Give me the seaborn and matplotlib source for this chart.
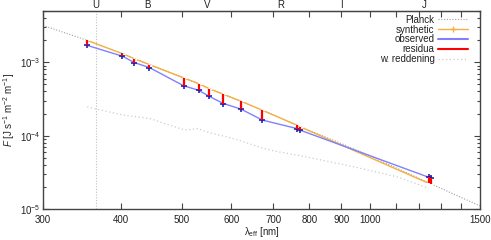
import numpy as np
import pandas as pd
import matplotlib
matplotlib.use("Agg")
import matplotlib.pyplot as plt
from matplotlib.lines import Line2D
from matplotlib.ticker import FixedLocator, NullFormatter, NullLocator, LogLocator
import seaborn as sns

# ---- data ----
lam = [353, 402, 420, 444, 504, 532, 553, 583, 622, 673, 764, 773, 1243, 1254]
observed = [1.70e-3, 1.21e-3, 0.99e-3, 0.847e-3, 4.77e-4, 4.16e-4, 3.44e-4, 2.74e-4,
            2.30e-4, 1.63e-4, 1.25e-4, 1.19e-4, 2.70e-5, 2.68e-5]
synthetic = [1.99e-3, 1.31e-3, 1.12e-3, 0.93e-3, 6.12e-4, 5.13e-4, 4.38e-4, 3.67e-4,
             2.94e-4, 2.22e-4, 1.39e-4, 1.32e-4, 2.23e-5, 2.20e-5]

planck_lam = [300, 353, 402, 444, 504, 553, 622, 673, 770, 900, 1000, 1250, 1500]
planck_F = [3.18e-3, 1.99e-3, 1.31e-3, 0.93e-3, 6.1e-4, 4.38e-4, 2.94e-4, 2.22e-4,
            1.35e-4, 7.8e-5, 5.3e-5, 2.22e-5, 1.10e-5]

redd_lam = [353, 366, 404, 445, 461, 506, 531, 546, 590, 617, 675, 715, 780, 941, 1105, 1243]
redd_F = [2.47e-4, 2.29e-4, 1.90e-4, 1.71e-4, 1.54e-4, 1.19e-4, 1.25e-4, 1.13e-4,
          9.64e-5, 8.69e-5, 6.7e-5, 6.0e-5, 5.26e-5, 3.77e-5, 2.75e-5, 1.91e-5]

filter_names = ["U", "B", "V", "R", "I", "J"]
filter_lam = [365, 440, 550, 720, 900, 1220]

xtick_vals = [300, 400, 500, 600, 700, 800, 900, 1000, 1500]
xtick_labels = ["300", "400", "500", "600", "700", "800", "900", "1000", "1500"]
xminor_vals = [1100, 1200, 1300, 1400]

# ---- style ----
sns.set_style("ticks")
plt.rcParams["font.family"] = ["Liberation Sans", "DejaVu Sans"]
plt.rcParams["mathtext.fontset"] = "custom"
plt.rcParams["mathtext.rm"] = "Liberation Sans"
plt.rcParams["mathtext.it"] = "Liberation Sans:italic"
plt.rcParams["font.size"] = 7

c_planck = "#a0a0a0"
c_syn = "#f5b041"
c_obs = "#8080ff"
c_obs_mk = "#2020b0"
c_res = "#ff0000"
c_redd = "#cccccc"
c_frame = "#444444"

fig = plt.figure(figsize=(4.91, 2.40), dpi=100)
ax = fig.add_axes([43 / 491, 31 / 240, 437 / 491, 198 / 240])

df_pl = pd.DataFrame({"lam": planck_lam, "F": planck_F})
df_obs = pd.DataFrame({"lam": lam, "F": observed})
df_syn = pd.DataFrame({"lam": lam, "F": synthetic})
df_rd = pd.DataFrame({"lam": redd_lam, "F": redd_F})

ax.axvline(365, color="#c0c0c0", lw=0.8, ls=(0, (1, 1.5)), zorder=1)
sns.lineplot(data=df_pl, x="lam", y="F", ax=ax, color=c_planck, lw=0.8,
             linestyle=(0, (1, 1.5)), errorbar=None, zorder=1)
sns.lineplot(data=df_rd, x="lam", y="F", ax=ax, color=c_redd, lw=0.9,
             linestyle=(0, (1, 2)), errorbar=None, zorder=1)
sns.lineplot(data=df_syn, x="lam", y="F", ax=ax, color=c_syn, lw=1.0,
             marker="+", markersize=5, markeredgewidth=0.9, errorbar=None, zorder=2)
sns.lineplot(data=df_obs, x="lam", y="F", ax=ax, color=c_obs, lw=1.0,
             marker="+", markersize=5, markeredgewidth=1.2, markeredgecolor=c_obs_mk,
             errorbar=None, zorder=3)
ax.vlines(lam, observed, synthetic, colors=c_res, lw=1.6, zorder=4)

ax.set_xscale("log")
ax.set_yscale("log")
ax.set_xlim(300, 1500)
ax.set_ylim(1e-5, 5e-3)

ax.xaxis.set_major_locator(FixedLocator(xtick_vals))
ax.set_xticklabels(xtick_labels)
ax.xaxis.set_minor_locator(FixedLocator(xminor_vals))
ax.xaxis.set_minor_formatter(NullFormatter())
ax.yaxis.set_major_locator(LogLocator(base=10, numticks=10))
ax.yaxis.set_minor_locator(LogLocator(base=10, subs=np.arange(2, 10), numticks=20))
ax.yaxis.set_minor_formatter(NullFormatter())

ax.tick_params(which="both", direction="in", top=True, right=True, colors=c_frame,
               labelcolor="#222222", width=0.8)
ax.tick_params(axis="x", which="both", length=4, pad=4.5)
ax.tick_params(axis="y", which="major", length=4, pad=2)
ax.tick_params(axis="y", which="minor", length=2)
for s in ax.spines.values():
    s.set_color(c_frame)
    s.set_linewidth(1.0)

sec = ax.secondary_xaxis("top")
sec.xaxis.set_major_locator(FixedLocator(filter_lam))
sec.set_xticklabels(filter_names)
sec.xaxis.set_minor_locator(NullLocator())
sec.tick_params(length=0, pad=0.5, labelcolor="#222222")
sec.spines["top"].set_color(c_frame)

ax.set_xlabel("λ$_\\mathrm{eff}$ [nm]", labelpad=0)
ax.set_ylabel("$F$ [J s$^{-1}$ m$^{-2}$ m$^{-1}$]", labelpad=2)

handles = [
    Line2D([], [], color=c_planck, lw=0.8, ls=(0, (1, 1.5))),
    Line2D([], [], color=c_syn, lw=1.0, marker="+", markersize=5),
    Line2D([], [], color=c_obs, lw=1.5),
    Line2D([], [], color=c_res, lw=1.5),
    Line2D([], [], color=c_redd, lw=0.9, ls=(0, (1, 2))),
]
labels = ["Planck", "synthetic", "observed", "residua", "w. reddening"]
leg = ax.legend(handles, labels, loc="upper right", markerfirst=False, frameon=False,
                fontsize=7, handlelength=3.0, handletextpad=0.4, labelspacing=-0.02,
                borderaxespad=0.2, bbox_to_anchor=(0.985, 1.01))
for t in leg.get_texts():
    t.set_ha("right")
    t.set_color("#222222")

fig.savefig("out.png", dpi=100)
